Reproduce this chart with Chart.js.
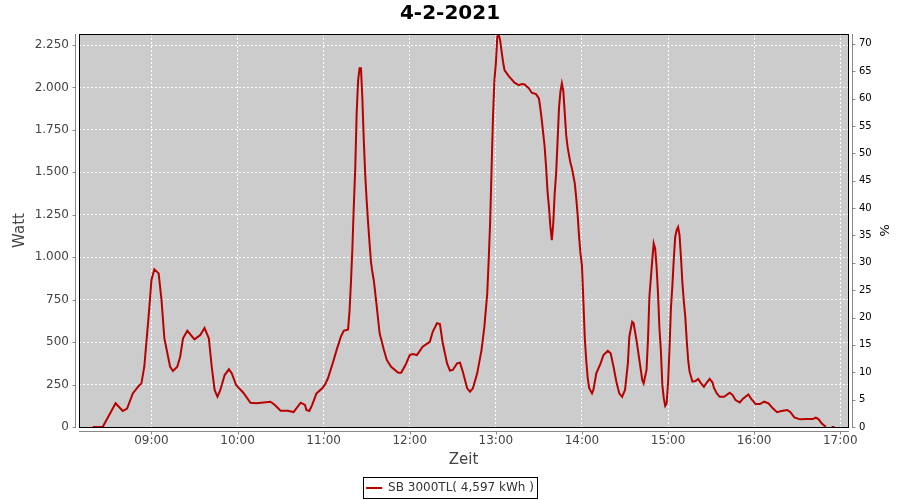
<!DOCTYPE html>
<html>
<head>
<meta charset="utf-8">
<script src="https://cdn.jsdelivr.net/npm/chart.js@4.4.1/dist/chart.umd.min.js"></script>
<style>
  html, body { margin: 0; padding: 0; background: #fff; }
</style>
</head>
<body>
<canvas id="chart" width="900" height="500"></canvas>
<script>
// Messwerte (Uhrzeit / Leistung in Watt)
const times = [
  "08:19", "08:26", "08:35", "08:40", "08:43", "08:47", "08:51", "08:53", "08:55", "08:58",
  "09:00", "09:02", "09:05", "09:07", "09:09", "09:13", "09:15", "09:18", "09:20", "09:22",
  "09:25", "09:30", "09:34", "09:37", "09:40", "09:42", "09:44", "09:46", "09:48", "09:51",
  "09:54", "09:56", "09:59", "10:04", "10:09", "10:13", "10:23", "10:26", "10:30", "10:35",
  "10:39", "10:41", "10:44", "10:47", "10:48", "10:50", "10:52", "10:55", "10:59", "11:01",
  "11:03", "11:07", "11:09", "11:12", "11:14", "11:17", "11:18", "11:19", "11:20", "11:21",
  "11:22", "11:23", "11:24", "11:25", "11:26", "11:27", "11:28", "11:29", "11:30", "11:31",
  "11:32", "11:33", "11:34", "11:35", "11:37", "11:39", "11:42", "11:44", "11:47", "11:52",
  "11:54", "11:57", "12:00", "12:02", "12:05", "12:09", "12:14", "12:16", "12:19", "12:21",
  "12:23", "12:26", "12:28", "12:30", "12:33", "12:35", "12:37", "12:40", "12:42", "12:44",
  "12:47", "12:50", "12:52", "12:54", "12:55", "12:56", "12:57", "12:58", "12:59", "13:00",
  "13:01", "13:02", "13:03", "13:04", "13:05", "13:06", "13:09", "13:11", "13:13", "13:16",
  "13:18", "13:20", "13:23", "13:25", "13:28", "13:30", "13:31", "13:32", "13:33", "13:34",
  "13:35", "13:36", "13:37", "13:38", "13:39", "13:40", "13:41", "13:42", "13:43", "13:44",
  "13:45", "13:46", "13:47", "13:48", "13:49", "13:50", "13:51", "13:52", "13:53", "13:54",
  "13:55", "13:56", "13:57", "13:58", "13:59", "14:00", "14:01", "14:02", "14:03", "14:04",
  "14:05", "14:07", "14:08", "14:10", "14:13", "14:15", "14:18", "14:20", "14:22", "14:24",
  "14:26", "14:28", "14:30", "14:32", "14:33", "14:35", "14:36", "14:38", "14:40", "14:42",
  "14:43", "14:45", "14:46", "14:47", "14:49", "14:50", "14:51", "14:52", "14:53", "14:54",
  "14:55", "14:56", "14:57", "14:58", "14:59", "15:00", "15:01", "15:02", "15:03", "15:04",
  "15:05", "15:06", "15:07", "15:08", "15:09", "15:10", "15:11", "15:12", "15:13", "15:14",
  "15:15", "15:17", "15:19", "15:21", "15:23", "15:25", "15:27", "15:29", "15:31", "15:32",
  "15:34", "15:36", "15:39", "15:43", "15:45", "15:47", "15:50", "15:52", "15:56", "15:58",
  "16:01", "16:04", "16:07", "16:10", "16:13", "16:16", "16:19", "16:23", "16:25", "16:28",
  "16:32", "16:37", "16:41", "16:43", "16:45", "16:47", "16:50", "16:52", "16:54", "16:56"
];
const watts = [
  0, 0, 140, 94, 108, 198, 241, 257, 355, 650,
  866, 929, 905, 748, 522, 355, 330, 355, 414, 522,
  567, 516, 542, 583, 522, 355, 218, 178, 218, 306,
  340, 316, 247, 202, 143, 140, 149, 130, 96, 96,
  88, 110, 143, 130, 100, 94, 130, 198, 228, 251,
  287, 395, 453, 532, 567, 575, 680, 850, 1050, 1300,
  1520, 1850, 2040, 2113, 2113, 1930, 1680, 1480, 1330, 1200,
  1080, 970, 910, 860, 709, 552, 453, 395, 355, 320,
  320, 365, 424, 430, 424, 473, 502, 561, 611, 607,
  493, 375, 332, 336, 375, 379, 326, 228, 208, 228,
  316, 453, 591, 787, 984, 1200, 1514, 1828, 2044, 2142,
  2299, 2309, 2279, 2211, 2152, 2103, 2067, 2048, 2028, 2014,
  2020, 2018, 1995, 1969, 1961, 1936, 1877, 1808, 1730, 1651,
  1533, 1386, 1298, 1180, 1101, 1200, 1376, 1494, 1680, 1880,
  1975, 2024, 1980, 1850, 1720, 1650, 1600, 1555, 1525, 1480,
  1435, 1350, 1250, 1120, 1020, 950, 740, 520, 390, 290,
  230, 198, 220, 316, 375, 424, 448, 434, 355, 267,
  198, 178, 218, 375, 532, 620, 611, 512, 395, 277,
  257, 336, 512, 767, 984, 1082, 1052, 944, 787, 580,
  450, 250, 170, 125, 140, 260, 460, 700, 830, 990,
  1120, 1160, 1178, 1130, 1000, 850, 740, 650, 512, 395,
  326, 267, 270, 283, 257, 237, 262, 283, 262, 230,
  198, 178, 178, 202, 188, 159, 145, 165, 192, 165,
  135, 135, 149, 139, 110, 87, 94, 100, 90, 57,
  45, 47, 47, 55, 45, 22, 0, null, 0, 0
];

const xTicks = ["09:00", "10:00", "11:00", "12:00", "13:00", "14:00", "15:00", "16:00", "17:00"];
const wattTicks = [0, 250, 500, 750, 1000, 1250, 1500, 1750, 2000, 2250];
const percentTicks = [0, 5, 10, 15, 20, 25, 30, 35, 40, 45, 50, 55, 60, 65, 70];

const seriesLabel = "SB 3000TL( 4,597 kWh )";
const lineColor = "#b80000";

const toMin = (s) => {
  const [h, m] = s.split(":").map(Number);
  return h * 60 + m;
};
const pad2 = (n) => String(n).padStart(2, "0");
const fmtTime = (v) => pad2(Math.floor(v / 60)) + ":" + pad2(Math.round(v % 60));
const fmtWatt = (v) => v >= 1000 ? Math.floor(v / 1000) + "." + String(v % 1000).padStart(3, "0") : String(v);

const points = times.map((t, i) => ({ x: toMin(t), y: watts[i] }));

Chart.defaults.font.family = "'DejaVu Sans', sans-serif";
Chart.defaults.color = "#444";

// Hintergrund, Rahmen, graue Achsenlinien und Legendenrahmen
const framePlugin = {
  id: "frame",
  afterLayout(chart) {
    chart.legend.top += 4;
    chart.legend.bottom += 4;
  },
  beforeDraw(chart) {
    const { ctx, chartArea: a } = chart;
    ctx.save();
    ctx.fillStyle = "#fff";
    ctx.fillRect(0, 0, chart.width, chart.height);
    ctx.fillStyle = "#cccccc";
    ctx.fillRect(a.left, a.top, a.right - a.left, a.bottom - a.top);
    ctx.restore();
  },
  afterDraw(chart) {
    const { ctx, chartArea: a, scales } = chart;
    ctx.save();
    ctx.strokeStyle = "#000";
    ctx.lineWidth = 1;
    ctx.strokeRect(a.left + 0.5, a.top + 0.5, a.right - a.left, a.bottom - a.top);

    ctx.strokeStyle = "#888";
    ctx.beginPath();
    // linke Achse
    const lx = a.left - 3.5;
    ctx.moveTo(lx, a.top);
    ctx.lineTo(lx, a.bottom + 1);
    scales.y.ticks.forEach((t) => {
      const y = Math.round(scales.y.getPixelForValue(t.value)) + 0.5;
      ctx.moveTo(lx - 3, y);
      ctx.lineTo(lx, y);
    });
    // rechte Achse
    const rx = a.right + 4.5;
    ctx.moveTo(rx, a.top);
    ctx.lineTo(rx, a.bottom + 1);
    scales.y1.ticks.forEach((t) => {
      const y = Math.round(scales.y1.getPixelForValue(t.value)) + 0.5;
      ctx.moveTo(rx, y);
      ctx.lineTo(rx + 3, y);
    });
    // Zeitachse
    const by = a.bottom + 4.5;
    ctx.moveTo(a.left, by);
    ctx.lineTo(a.right + 1, by);
    scales.x.ticks.forEach((t) => {
      const x = Math.round(scales.x.getPixelForValue(t.value)) + 0.5;
      ctx.moveTo(x, by);
      ctx.lineTo(x, by + 3);
    });
    ctx.stroke();

    const hb = chart.legend.legendHitBoxes[0];
    if (hb) {
      const cy = Math.round(hb.top + hb.height / 2);
      ctx.strokeStyle = "#000";
      ctx.strokeRect(Math.round(hb.left) - 2.5, cy - 10.5, Math.round(hb.width) + 6, 21);
    }
    ctx.restore();
  }
};

new Chart(document.getElementById("chart"), {
  type: "line",
  data: {
    datasets: [
      {
        label: seriesLabel,
        data: points,
        borderColor: lineColor,
        backgroundColor: lineColor,
        borderWidth: 2,
        pointRadius: 0,
        tension: 0,
        spanGaps: false,
        yAxisID: "y",
      },
    ],
  },
  options: {
    responsive: false,
    animation: false,
    layout: { padding: 0 },
    plugins: {
      title: {
        display: true,
        text: "4-2-2021",
        color: "#000",
        font: { size: 20, weight: "bold" },
        padding: { top: 2, bottom: 8 },
      },
      legend: {
        position: "bottom",
        labels: {
          boxWidth: 16,
          boxHeight: 2,
          color: "#333",
          font: { size: 12 },
          generateLabels: (chart) =>
            Chart.defaults.plugins.legend.labels
              .generateLabels(chart)
              .map((l) => ({ ...l, lineWidth: 0, fillStyle: lineColor })),
        },
      },
      tooltip: { enabled: false },
    },
    scales: {
      x: {
        type: "linear",
        min: 489.5,
        max: 1025.4,
        afterBuildTicks: (s) => {
          s.ticks = xTicks.map((t) => ({ value: toMin(t) }));
        },
        afterFit: (s) => {
          s.height = 41;
        },
        ticks: {
          callback: (v) => fmtTime(v),
          color: "#444",
          font: { size: 12 },
          padding: 7,
          maxRotation: 0,
          autoSkip: false,
        },
        grid: { color: "#ffffff", drawTicks: false },
        border: { display: false, dash: [2, 2] },
        title: { display: true, text: "Zeit", color: "#444", font: { size: 15 }, padding: { top: 0, bottom: -1 } },
      },
      y: {
        position: "left",
        min: 0,
        max: 2315,
        afterBuildTicks: (s) => {
          s.ticks = wattTicks.map((v) => ({ value: v }));
        },
        afterFit: (s) => {
          s.width = 79;
        },
        ticks: {
          callback: (v) => fmtWatt(v),
          color: "#444",
          font: { size: 12 },
          padding: 10,
        },
        grid: { color: "#ffffff", drawTicks: false },
        border: { display: false, dash: [2, 2] },
        title: { display: true, text: "Watt", color: "#444", font: { size: 15 }, padding: { top: 11 } },
      },
      y1: {
        position: "right",
        min: 0,
        max: 71.8,
        afterBuildTicks: (s) => {
          s.ticks = percentTicks.map((v) => ({ value: v }));
        },
        afterFit: (s) => {
          s.width = 52;
        },
        ticks: {
          color: "#000",
          font: { size: 10 },
          padding: 11,
        },
        grid: { display: false, drawTicks: false },
        border: { display: false },
        title: { display: true, text: "%", color: "#000", font: { size: 13 }, padding: { top: 9 } },
      },
    },
  },
  plugins: [framePlugin],
});
</script>
</body>
</html>
